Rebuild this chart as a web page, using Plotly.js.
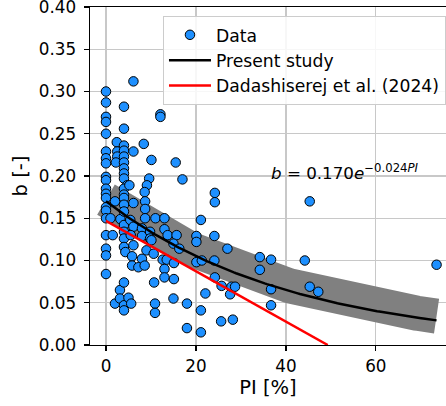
<!DOCTYPE html>
<html>
<head>
<meta charset="utf-8">
<script src="https://cdn.plot.ly/plotly-3.0.1.min.js"></script>
<style>html,body{margin:0;padding:0;background:#fff;}#chart{width:446px;height:406px;}</style>
</head>
<body>
<div id="chart"></div>
<script>
// ---- Data ----
const piData = [
  0,0,0,0,0,0,0,0,0,0,0,0,0,0,0,0,0,0,0,0,
  2.4,2.5,2.5,2.2,2.0,1.0,3.2,1.5,2.0,3.1,3.1,
  4,4,4,4,4,4,4,4,4,4.7,4,4,4,4,4,4,4,4,4,4.3,4,4,4,
  6.1,6.1,5.2,6.1,5.4,6.1,5.5,6.1,5.8,5.8,5.0,5.6,
  8.4,10.1,9.6,9.1,8.6,8.7,8.7,8.7,8.0,8.0,9.8,9.8,10.1,9.0,8.0,7.2,8.6,
  12.1,12.1,11.0,13.0,13.0,13.7,10.6,12.6,13.5,13.0,13.0,10.7,10.9,10.9,
  15.5,17.0,15.7,15.0,16.3,15.1,15.1,15.0,18.0,18.0,
  24.2,24.2,21.1,20.1,20.1,24.1,27.0,20.1,21.3,24.1,24.2,25.7,27.6,27.9,28.7,22.1,21.1,21.1,25.6,28.2,
  34.2,34.2,36.7,36.7,36.7,44.2,45.3,45.3,47.2,73.5
];
const bData = [
  0.300,0.287,0.270,0.264,0.250,0.229,0.221,0.215,0.199,0.195,0.185,0.179,0.174,0.163,0.159,0.150,0.130,0.114,0.106,0.084,
  0.240,0.229,0.223,0.216,0.170,0.150,0.149,0.130,0.049,0.065,0.055,
  0.282,0.256,0.236,0.230,0.223,0.216,0.209,0.203,0.197,0.189,0.185,0.178,0.174,0.166,0.158,0.142,0.134,0.126,0.116,0.110,0.074,0.047,0.041,
  0.312,0.229,0.189,0.168,0.148,0.140,0.130,0.118,0.105,0.094,0.056,0.049,
  0.238,0.219,0.197,0.189,0.181,0.170,0.161,0.150,0.138,0.129,0.134,0.126,0.124,0.112,0.102,0.092,0.094,
  0.273,0.270,0.150,0.150,0.137,0.130,0.108,0.101,0.101,0.090,0.080,0.074,0.049,0.038,
  0.216,0.196,0.130,0.120,0.114,0.097,0.078,0.055,0.049,0.020,
  0.180,0.169,0.148,0.129,0.122,0.129,0.114,0.098,0.100,0.100,0.080,0.070,0.060,0.069,0.069,0.061,0.041,0.015,0.028,0.030,
  0.104,0.089,0.101,0.066,0.047,0.100,0.170,0.069,0.063,0.095
];

// Present study fit, as printed on the chart: b = 0.170 e^(-0.024 PI)
const fitA = 0.170, fitK = 0.024;
// grey band (thick grey curve)
const bandA = 0.172, bandK = 0.022;
const fitRange = [0, 73.5];

// Dadashiserej et al. (2024) straight line endpoints
const dadPI = [0, 49.3];
const dadB = [0.147, 0.0];

const xTicks = [0, 20, 40, 60];
const yTicks = [0, 0.05, 0.10, 0.15, 0.20, 0.25, 0.30, 0.35, 0.40];

// ---- build curves ----
const nSamp = 150;
const fitX = [], fitY = [], bandY = [];
for (let i = 0; i <= nSamp; i++) {
  const x = fitRange[0] + (fitRange[1] - fitRange[0]) * i / nSamp;
  fitX.push(x);
  fitY.push(fitA * Math.exp(-fitK * x));
  bandY.push(bandA * Math.exp(-bandK * x));
}

const FONT = 'DejaVu Sans, sans-serif';
const TICK = 16.8;
const TITLE = 19.5;

const traces = [
  {
    x: fitX, y: bandY, mode: 'lines', type: 'scatter',
    line: {color: 'rgb(128,128,128)', width: 35},
    showlegend: false, hoverinfo: 'skip'
  },
  {
    x: piData, y: bData, mode: 'markers', type: 'scatter', name: 'Data',
    marker: {color: '#1E90FF', size: 9.5, line: {color: '#000', width: 1}},
    legendrank: 1
  },
  {
    x: fitX, y: fitY, mode: 'lines', type: 'scatter', name: 'Present study',
    line: {color: '#000', width: 2.5}, legendrank: 2
  },
  {
    x: dadPI, y: dadB, mode: 'lines', type: 'scatter', name: 'Dadashiserej et al. (2024)',
    line: {color: '#ff0000', width: 2.5}, legendrank: 3
  }
];

const layout = {
  width: 446, height: 406,
  margin: {l: 90, r: 0, t: 7, b: 61, pad: 0},
  paper_bgcolor: '#fff', plot_bgcolor: '#fff',
  font: {family: FONT, size: TICK, color: '#000'},
  showlegend: true,
  legend: {
    x: 0.205, y: 0.973, xanchor: 'left', yanchor: 'top',
    bgcolor: 'rgba(255,255,255,0.85)', bordercolor: '#cccccc', borderwidth: 1,
    font: {family: FONT, size: 17.2, color: '#000'},
    itemwidth: 42, traceorder: 'normal'
  },
  xaxis: {
    range: [-3.556, 75.6], tickvals: xTicks, ticktext: xTicks.map(String),
    showgrid: true, gridcolor: '#c8c8c8', gridwidth: 1.3,
    showline: true, linecolor: '#000', linewidth: 1.4, mirror: true,
    ticks: 'outside', ticklen: 5, tickwidth: 1.3, tickcolor: '#000',
    zeroline: false, ticklabeloverflow: 'allow',
    tickfont: {family: FONT, size: TICK, color: '#000'},
    title: {text: 'PI [%]', font: {family: FONT, size: TITLE, color: '#000'}, standoff: 4}
  },
  yaxis: {
    range: [0, 0.40], tickvals: yTicks, ticktext: yTicks.map(v => v.toFixed(2)),
    showgrid: true, gridcolor: '#c8c8c8', gridwidth: 1.3,
    showline: true, linecolor: '#000', linewidth: 1.4, mirror: false,
    ticks: 'outside', ticklen: 5, tickwidth: 1.3, tickcolor: '#000',
    zeroline: false, ticklabelstandoff: 4, ticklabeloverflow: 'allow',
    tickfont: {family: FONT, size: TICK, color: '#000'},
    title: {text: 'b [-]', font: {family: FONT, size: TITLE, color: '#000'}, standoff: 6}
  },
  annotations: [{
    x: 53.1, y: 0.2047, xref: 'x', yref: 'y', showarrow: false,
    xanchor: 'center', yanchor: 'middle',
    text: '<i>b</i> = 0.170<i>e</i><sup>−0.024<i>PI</i></sup>',
    font: {family: FONT, size: 16.7, color: '#000'}
  }]
};

Plotly.newPlot('chart', traces, layout, {displayModeBar: false, staticPlot: true});
</script>
</body>
</html>
